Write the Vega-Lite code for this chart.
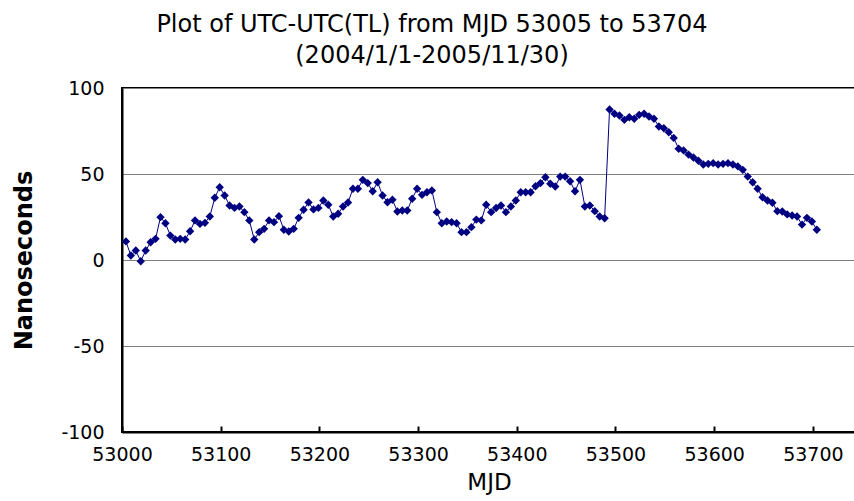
{
  "$schema": "https://vega.github.io/schema/vega-lite/v6.json",
  "autosize": "none",
  "width": 734,
  "height": 344,
  "padding": {"left": 122, "top": 88, "right": 0, "bottom": 69},
  "background": "white",
  "config": {
    "font": "DejaVu Sans",
    "view": {"stroke": "black", "strokeWidth": 2},
    "axis": {"labelFont": "DejaVu Sans", "titleFont": "DejaVu Sans", "labelColor": "black", "titleColor": "black"}
  },
  "title": {
    "text": ["Plot of UTC-UTC(TL) from MJD 53005 to 53704", "(2004/1/1-2005/11/30)"],
    "font": "DejaVu Sans",
    "fontSize": 24,
    "fontWeight": "normal",
    "color": "black",
    "anchor": "middle",
    "dx": -57,
    "offset": 11,
    "lineHeight": 31
  },
  "data": {"values": [
    {"mjd": 53004, "ns": 10.8}, {"mjd": 53009, "ns": 2.6}, {"mjd": 53014, "ns": 5.5}, {"mjd": 53019, "ns": -0.7},
    {"mjd": 53024, "ns": 5.5}, {"mjd": 53029, "ns": 10.3}, {"mjd": 53034, "ns": 12.3}, {"mjd": 53039, "ns": 24.9},
    {"mjd": 53044, "ns": 21.4}, {"mjd": 53049, "ns": 14.2}, {"mjd": 53054, "ns": 11.9}, {"mjd": 53059, "ns": 12.3},
    {"mjd": 53064, "ns": 11.9}, {"mjd": 53069, "ns": 16.7}, {"mjd": 53074, "ns": 23}, {"mjd": 53079, "ns": 21},
    {"mjd": 53084, "ns": 21.6}, {"mjd": 53089, "ns": 25.3}, {"mjd": 53094, "ns": 36.2}, {"mjd": 53099, "ns": 42.3},
    {"mjd": 53104, "ns": 37.5}, {"mjd": 53109, "ns": 31.7}, {"mjd": 53114, "ns": 30.3}, {"mjd": 53119, "ns": 31.1},
    {"mjd": 53124, "ns": 27.8}, {"mjd": 53129, "ns": 23}, {"mjd": 53134, "ns": 11.9}, {"mjd": 53139, "ns": 16.2},
    {"mjd": 53144, "ns": 18.1}, {"mjd": 53149, "ns": 23}, {"mjd": 53154, "ns": 22}, {"mjd": 53159, "ns": 25.5},
    {"mjd": 53164, "ns": 17.6}, {"mjd": 53169, "ns": 16.6}, {"mjd": 53174, "ns": 18.1}, {"mjd": 53179, "ns": 24.5},
    {"mjd": 53184, "ns": 29.2}, {"mjd": 53189, "ns": 33.5}, {"mjd": 53194, "ns": 29.4}, {"mjd": 53199, "ns": 30.3},
    {"mjd": 53204, "ns": 34.6}, {"mjd": 53209, "ns": 32.1}, {"mjd": 53214, "ns": 25.3}, {"mjd": 53219, "ns": 26.9},
    {"mjd": 53224, "ns": 31.1}, {"mjd": 53229, "ns": 33.4}, {"mjd": 53234, "ns": 41.4}, {"mjd": 53239, "ns": 41.4},
    {"mjd": 53244, "ns": 46.6}, {"mjd": 53249, "ns": 44.7}, {"mjd": 53254, "ns": 40}, {"mjd": 53259, "ns": 45.2},
    {"mjd": 53264, "ns": 37.5}, {"mjd": 53269, "ns": 33.6}, {"mjd": 53274, "ns": 35}, {"mjd": 53279, "ns": 28.2},
    {"mjd": 53284, "ns": 28.8}, {"mjd": 53289, "ns": 28.8}, {"mjd": 53294, "ns": 35.6}, {"mjd": 53299, "ns": 41.4},
    {"mjd": 53304, "ns": 37.9}, {"mjd": 53309, "ns": 39.4}, {"mjd": 53314, "ns": 40.4}, {"mjd": 53319, "ns": 27.8},
    {"mjd": 53324, "ns": 21.4}, {"mjd": 53329, "ns": 22.4}, {"mjd": 53334, "ns": 22}, {"mjd": 53339, "ns": 21.4},
    {"mjd": 53344, "ns": 16.2}, {"mjd": 53349, "ns": 16.2}, {"mjd": 53354, "ns": 19.1}, {"mjd": 53359, "ns": 23.5},
    {"mjd": 53364, "ns": 23}, {"mjd": 53369, "ns": 32.1}, {"mjd": 53374, "ns": 27.8}, {"mjd": 53379, "ns": 30.2},
    {"mjd": 53384, "ns": 31.7}, {"mjd": 53389, "ns": 27.8}, {"mjd": 53394, "ns": 31.1}, {"mjd": 53399, "ns": 34.6},
    {"mjd": 53404, "ns": 39.4}, {"mjd": 53409, "ns": 39.4}, {"mjd": 53414, "ns": 39.4}, {"mjd": 53419, "ns": 42.9},
    {"mjd": 53424, "ns": 44.7}, {"mjd": 53429, "ns": 48.1}, {"mjd": 53434, "ns": 44.3}, {"mjd": 53439, "ns": 42.7},
    {"mjd": 53444, "ns": 48.5}, {"mjd": 53449, "ns": 48.5}, {"mjd": 53454, "ns": 45.8}, {"mjd": 53459, "ns": 40},
    {"mjd": 53464, "ns": 46.6}, {"mjd": 53469, "ns": 31.1}, {"mjd": 53474, "ns": 31.7}, {"mjd": 53479, "ns": 28.4},
    {"mjd": 53484, "ns": 25.3}, {"mjd": 53489, "ns": 24.3}, {"mjd": 53494, "ns": 87.5}, {"mjd": 53499, "ns": 85},
    {"mjd": 53504, "ns": 84}, {"mjd": 53509, "ns": 81.5}, {"mjd": 53514, "ns": 83}, {"mjd": 53519, "ns": 82.1},
    {"mjd": 53524, "ns": 84.4}, {"mjd": 53529, "ns": 85}, {"mjd": 53534, "ns": 83.4}, {"mjd": 53539, "ns": 82.1},
    {"mjd": 53544, "ns": 77.6}, {"mjd": 53549, "ns": 76.6}, {"mjd": 53554, "ns": 74.3}, {"mjd": 53559, "ns": 71},
    {"mjd": 53564, "ns": 64.7}, {"mjd": 53569, "ns": 63.7}, {"mjd": 53574, "ns": 61.3}, {"mjd": 53579, "ns": 59.6},
    {"mjd": 53584, "ns": 57.7}, {"mjd": 53589, "ns": 55.5}, {"mjd": 53594, "ns": 55.9}, {"mjd": 53599, "ns": 56.3},
    {"mjd": 53604, "ns": 55.5}, {"mjd": 53609, "ns": 55.9}, {"mjd": 53614, "ns": 56.3}, {"mjd": 53619, "ns": 55.5},
    {"mjd": 53624, "ns": 54.4}, {"mjd": 53629, "ns": 52.4}, {"mjd": 53634, "ns": 48.5}, {"mjd": 53639, "ns": 45.2},
    {"mjd": 53644, "ns": 41.4}, {"mjd": 53649, "ns": 36.5}, {"mjd": 53654, "ns": 34.6}, {"mjd": 53659, "ns": 33.3},
    {"mjd": 53664, "ns": 28.4}, {"mjd": 53669, "ns": 28.2}, {"mjd": 53674, "ns": 26.5}, {"mjd": 53679, "ns": 25.9},
    {"mjd": 53684, "ns": 25.3}, {"mjd": 53689, "ns": 20.6}, {"mjd": 53694, "ns": 24.5}, {"mjd": 53699, "ns": 22.4},
    {"mjd": 53704, "ns": 17.6}
  ]},
  "encoding": {
    "x": {
      "field": "mjd", "type": "quantitative",
      "scale": {"domain": [53000, 53743.7], "nice": false, "zero": false},
      "axis": {
        "title": "MJD", "values": [53000, 53100, 53200, 53300, 53400, 53500, 53600, 53700],
        "format": "d", "grid": false, "domainColor": "black", "domainWidth": 2,
        "tickColor": "black", "tickWidth": 2, "tickSize": -6, "labelFlush": false,
        "labelFontSize": 19, "labelPadding": 19, "titleFontSize": 23, "titleFontWeight": "normal", "titlePadding": 7
      }
    },
    "y": {
      "field": "ns", "type": "quantitative",
      "scale": {"domain": [-100, 100], "nice": false},
      "axis": {
        "title": "Nanoseconds", "values": [-100, -50, 0, 50, 100],
        "labelExpr": "'' + datum.value",
        "grid": true, "gridColor": "#808080", "gridWidth": 1,
        "domainColor": "black", "domainWidth": 2, "ticks": false,
        "labelFontSize": 19, "labelPadding": 18, "titleFontSize": 24, "titleFontWeight": "bold", "titlePadding": 24
      }
    }
  },
  "layer": [
    {"mark": {"type": "line", "color": "#000080", "strokeWidth": 1}},
    {"mark": {"type": "point", "shape": "diamond", "filled": true, "color": "#000080", "size": 70, "opacity": 1}}
  ]
}
